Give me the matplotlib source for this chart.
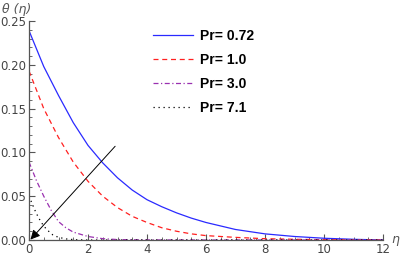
import numpy as np
import matplotlib.pyplot as plt
from matplotlib.ticker import MultipleLocator, FormatStrFormatter

# 데이터
eta_072 = [0, 0.5, 1, 1.5, 2, 2.5, 3, 3.5, 4, 4.5, 5, 5.5, 6, 6.5, 7, 7.5, 8, 9, 10, 11, 12]
theta_072 = [0.239, 0.198, 0.165, 0.134, 0.108, 0.088, 0.071, 0.057, 0.046, 0.038, 0.031,
             0.025, 0.020, 0.016, 0.012, 0.0095, 0.007, 0.004, 0.002, 0.0008, 0.0]

eta_10 = [0, 0.5, 1, 1.5, 2, 2.5, 3, 3.5, 4, 4.5, 5, 5.5, 6, 7, 8, 9, 10, 11, 12]
theta_10 = [0.193, 0.150, 0.117, 0.089, 0.067, 0.050, 0.037, 0.027, 0.020, 0.014, 0.010,
            0.007, 0.005, 0.003, 0.0015, 0.0008, 0.0004, 0.0001, 0.0]

eta_30 = [0, 0.25, 0.5, 0.75, 1, 1.25, 1.5, 2, 2.5, 3, 4, 6, 12]
theta_30 = [0.089, 0.068, 0.050, 0.034, 0.021, 0.014, 0.009, 0.004, 0.0015, 0.0005, 0.0001, 0.0, 0.0]

eta_71 = [0, 0.1, 0.2, 0.3, 0.4, 0.5, 0.6, 0.8, 1.0, 1.3, 1.6, 2, 12]
theta_71 = [0.050, 0.042, 0.034, 0.027, 0.021, 0.016, 0.012, 0.006, 0.003, 0.001, 0.0003, 0.0, 0.0]

labels = ['Pr= 0.72', 'Pr= 1.0', 'Pr= 3.0', 'Pr= 7.1']

gray = '#555555'

fig = plt.figure(figsize=(4, 2.6), dpi=100)
ax = fig.add_axes([29 / 400, 1 - 240 / 260, 354 / 400, 219 / 260])

ax.plot(eta_072, theta_072, color='#2a2aff', lw=0.9, label=labels[0])
ax.plot(eta_10, theta_10, color='#ff2020', lw=0.9, ls=(0, (4, 3)), label=labels[1])
ax.plot(eta_30, theta_30, color='#9a30b0', lw=0.9, ls=(0, (4, 2, 1, 2)), label=labels[2])
ax.plot(eta_71, theta_71, color='black', lw=0.9, ls=(0, (1, 3)), label=labels[3])

# 화살표
ax.annotate('', xy=(0.05, 0.0005), xytext=(2.92, 0.107),
            arrowprops=dict(arrowstyle='-|>', color='black', lw=0.7,
                            mutation_scale=14, shrinkA=0, shrinkB=0))

ax.set_xlim(0, 12)
ax.set_ylim(0, 0.25)
ax.xaxis.set_major_locator(MultipleLocator(2))
ax.xaxis.set_minor_locator(MultipleLocator(0.5))
ax.yaxis.set_major_locator(MultipleLocator(0.05))
ax.yaxis.set_minor_locator(MultipleLocator(0.01))
ax.yaxis.set_major_formatter(FormatStrFormatter('%.2f'))

for s in ['top', 'right']:
    ax.spines[s].set_visible(False)
for s in ['left', 'bottom']:
    ax.spines[s].set_color(gray)
    ax.spines[s].set_linewidth(0.9)
ax.tick_params(which='both', direction='in', colors=gray, labelsize=8.5, pad=2)
ax.tick_params(which='major', length=4, width=0.8)
ax.tick_params(which='minor', length=2.5, width=0.6)
for t in ax.get_xticklabels() + ax.get_yticklabels():
    t.set_color('#444444')
ax.patch.set_visible(False)
for sp in ax.spines.values():
    sp.set_clip_on(False)

fig.text(2 / 400, 1 - 10 / 260, 'θ (η)', fontsize=9, style='italic', color=gray, va='center')
fig.text(391 / 400, 1 - 240 / 260, 'η', fontsize=9, style='italic', color=gray, va='center')

leg = ax.legend(loc='upper left', bbox_to_anchor=(153 / 400, 1 - 29 / 260),
                bbox_transform=fig.transFigure, frameon=False, borderpad=0,
                borderaxespad=0, handlelength=2.9, handletextpad=0.5, labelspacing=0.72,
                prop={'family': 'Liberation Sans', 'weight': 'bold', 'size': 10})

fig.savefig('out.png', dpi=100)
